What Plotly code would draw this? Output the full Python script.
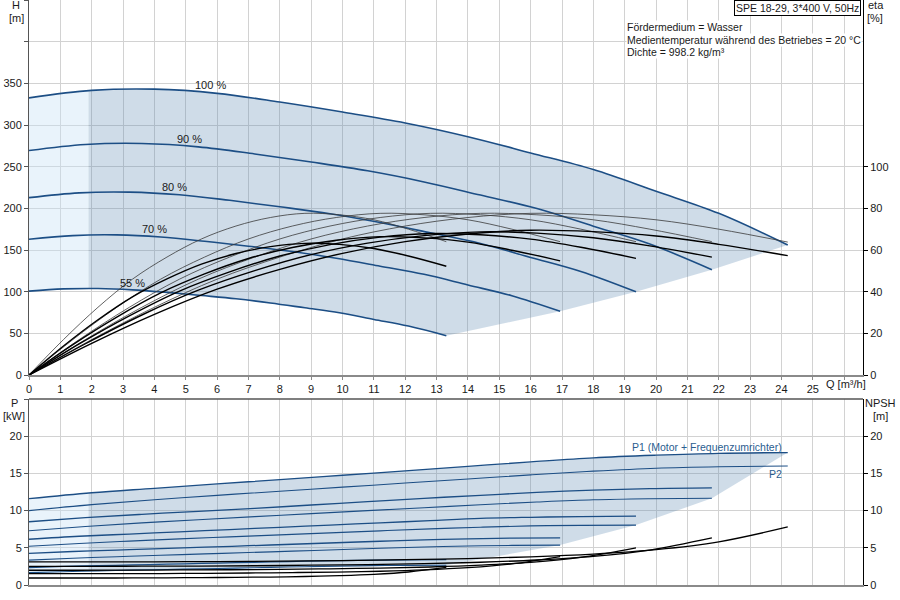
import numpy as np
import plotly.graph_objects as go

# ---------------- data ----------------
speed_labels = ["100 %", "90 %", "80 %", "70 %", "55 %"]

# flow points per speed curve [m3/h]
q_100 = [0, 2, 4, 6, 8, 10, 12, 14, 16, 18, 20, 22, 24.2]
q_90 = [0, 1.8, 3.6, 5.4, 7.2, 9, 10.8, 12.6, 14.4, 16.2, 18, 19.8, 21.78]
q_80 = [0, 1.6, 3.2, 4.8, 6.4, 8, 9.6, 11.2, 12.8, 14.4, 16, 17.6, 19.36]
q_70 = [0, 1.4, 2.8, 4.2, 5.6, 7, 8.4, 9.8, 11.2, 12.6, 14, 15.4, 16.94]
q_55 = [0, 1.1, 2.2, 3.3, 4.4, 5.5, 6.6, 7.7, 8.8, 9.9, 11, 12.1, 13.31]

# head H [m]
h_100 = [332.5, 341.5, 343, 338, 327.5, 315.5, 302.5, 286, 266.5, 246.5, 220.5, 194, 156]
h_90 = [269.3, 276.6, 277.8, 273.8, 265.3, 255.6, 245.0, 231.7, 215.9, 199.7, 178.6, 157.1, 126.4]
h_80 = [212.8, 218.6, 219.5, 216.3, 209.6, 201.9, 193.6, 183.0, 170.6, 157.8, 141.1, 124.2, 99.8]
h_70 = [162.9, 167.3, 168.1, 165.6, 160.5, 154.6, 148.2, 140.1, 130.6, 120.8, 108.0, 95.1, 76.4]
h_55 = [100.6, 103.3, 103.8, 102.2, 99.1, 95.4, 91.5, 86.5, 80.6, 74.6, 66.7, 58.7, 47.2]

# pump efficiency (thin curves) [%]
etap_100 = [0, 17, 32.5, 46, 56.6, 65.3, 71.5, 75.6, 77.6, 76.9, 74.5, 70, 63.8]
etap_90 = [0, 17, 32.5, 46, 56.6, 65.3, 71.5, 75.6, 77.6, 76.9, 74.5, 70, 64]
etap_80 = [0, 17, 32.5, 46, 56.6, 65.3, 71.5, 75.6, 77.6, 76.9, 74.5, 70, 64]
etap_70 = [0, 17, 32.5, 46, 56.6, 65.3, 71.5, 75.6, 77.6, 76.9, 74.5, 70, 64]
etap_55 = [0, 17, 32.5, 46, 56.6, 65.3, 71.5, 75.6, 77.6, 76.9, 74.5, 70, 64]

# total efficiency (thick curves) [%]
etat_100 = [0, 15.2, 29.1, 41.2, 50.7, 58.4, 64.0, 67.7, 69.5, 68.8, 66.7, 62.7, 57.3]
etat_90 = [0, 15.0, 28.8, 40.7, 50.1, 57.8, 63.3, 66.9, 68.7, 68.1, 65.9, 62.0, 56.6]
etat_80 = [0, 14.9, 28.4, 40.3, 49.5, 57.1, 62.6, 66.2, 67.9, 67.3, 65.2, 61.3, 56.0]
etat_70 = [0, 14.6, 27.8, 39.4, 48.5, 55.9, 61.2, 64.7, 66.4, 65.8, 63.8, 59.9, 54.8]
etat_55 = [0, 13.9, 26.5, 37.5, 46.1, 53.2, 58.3, 61.6, 63.2, 62.7, 60.7, 57.1, 52.2]

# P1 (motor + frequency converter) [kW]
p1_100 = [11.6, 12.4, 13.0, 13.6, 14.15, 14.75, 15.35, 15.95, 16.55, 17.1, 17.45, 17.7, 17.8]
p1_90 = [8.5, 9.05, 9.5, 9.9, 10.3, 10.75, 11.2, 11.65, 12.05, 12.45, 12.75, 12.95, 13.05]
p1_80 = [6.15, 6.55, 6.85, 7.15, 7.45, 7.75, 8.05, 8.35, 8.65, 8.95, 9.1, 9.2, 9.25]
p1_70 = [4.24, 4.5, 4.7, 4.9, 5.08, 5.28, 5.48, 5.68, 5.88, 6.07, 6.2, 6.3, 6.34]
p1_55 = [2.35, 2.5, 2.6, 2.7, 2.8, 2.9, 3.0, 3.1, 3.2, 3.28, 3.34, 3.38, 3.4]

# P2 [kW]
p2_100 = [10.0, 10.8, 11.45, 12.05, 12.6, 13.15, 13.7, 14.25, 14.8, 15.3, 15.7, 15.9, 16.0]
p2_90 = [7.3, 7.87, 8.35, 8.78, 9.19, 9.59, 9.99, 10.39, 10.79, 11.15, 11.45, 11.59, 11.66]
p2_80 = [5.2, 5.58, 5.9, 6.2, 6.47, 6.74, 7.01, 7.28, 7.54, 7.77, 7.95, 8.02, 8.05]
p2_70 = [3.35, 3.6, 3.8, 4.0, 4.18, 4.36, 4.55, 4.74, 4.93, 5.1, 5.24, 5.32, 5.36]
p2_55 = [1.66, 1.79, 1.9, 2.0, 2.09, 2.18, 2.27, 2.37, 2.46, 2.54, 2.6, 2.64, 2.66]

# NPSH [m]
npsh_100 = [3.1, 3.1, 3.12, 3.15, 3.2, 3.28, 3.4, 3.55, 3.78, 4.15, 4.75, 5.8, 7.8]
npsh_90 = [2.51, 2.51, 2.53, 2.55, 2.59, 2.66, 2.75, 2.88, 3.06, 3.36, 3.85, 4.7, 6.32]
npsh_80 = [1.98, 1.98, 2.0, 2.02, 2.05, 2.1, 2.18, 2.27, 2.42, 2.66, 3.04, 3.71, 4.99]
npsh_70 = [1.52, 1.52, 1.53, 1.54, 1.57, 1.61, 1.67, 1.74, 1.85, 2.03, 2.33, 2.84, 3.82]
npsh_55 = [0.94, 0.94, 0.94, 0.95, 0.97, 0.99, 1.03, 1.07, 1.14, 1.26, 1.44, 1.75, 2.36]

q_sets = [q_100, q_90, q_80, q_70, q_55]
h_sets = [h_100, h_90, h_80, h_70, h_55]
etap_sets = [etap_100, etap_90, etap_80, etap_70, etap_55]
etat_sets = [etat_100, etat_90, etat_80, etat_70, etat_55]
p1_sets = [p1_100, p1_90, p1_80, p1_70, p1_55]
p2_sets = [p2_100, p2_90, p2_80, p2_70, p2_55]
npsh_sets = [npsh_100, npsh_90, npsh_80, npsh_70, npsh_55]

# label positions (Q, H) for speed labels
label_q = [5.8, 5.13, 4.65, 4.0, 3.3]
label_h = [348, 283, 225.6, 174.8, 110.8]

info_lines = ["Fördermedium = Wasser",
              "Medientemperatur während des Betriebes = 20 °C",
              "Dichte = 998.2 kg/m³"]

Q_SPLIT = 1.9  # boundary of light zone

# ---------------- helpers ----------------
def clip(q, y, a, b):
    q = np.asarray(q, float)
    y = np.asarray(y, float)
    lo, hi = max(a, q[0]), min(b, q[-1])
    inner = (q > lo) & (q < hi)
    qs = np.concatenate([[lo], q[inner], [hi]])
    return qs, np.interp(qs, q, y)


def polygons(top_q, top_y, right_pts, bot_q, bot_y):
    tq, ty = clip(top_q, top_y, 0, Q_SPLIT)
    bq, by = clip(bot_q, bot_y, 0, Q_SPLIT)
    light = (np.concatenate([tq, bq[::-1]]), np.concatenate([ty, by[::-1]]))
    tq, ty = clip(top_q, top_y, Q_SPLIT, 1e9)
    bq, by = clip(bot_q, bot_y, Q_SPLIT, 1e9)
    rq = [p[0] for p in right_pts]
    ry = [p[1] for p in right_pts]
    dark = (np.concatenate([tq, rq, bq[::-1]]), np.concatenate([ty, ry, by[::-1]]))
    return light, dark


BLUE = "#1c4e85"
DARK_FILL = "rgba(95,138,178,0.30)"
LIGHT_FILL = "rgba(200,225,245,0.40)"
FONT = "Liberation Sans, Arial, sans-serif"
GRID = "#d2d2d2"

fig = go.Figure()

# ---------------- upper chart: shaded zone ----------------
right_top = [(q[-1], h[-1]) for q, h in zip(q_sets, h_sets)]
light, dark = polygons(q_100, h_100, right_top[1:], q_55, h_55)
for (px, py), col in [(light, LIGHT_FILL), (dark, DARK_FILL)]:
    fig.add_trace(go.Scatter(x=px, y=py, xaxis="x", yaxis="y", mode="lines",
                             line=dict(width=0), fill="toself", fillcolor=col,
                             hoverinfo="skip", showlegend=False))

# head curves
for q, h in zip(q_sets, h_sets):
    fig.add_trace(go.Scatter(x=q, y=h, xaxis="x", yaxis="y", mode="lines",
                             line=dict(color=BLUE, width=1.6, shape="spline"),
                             showlegend=False))

# efficiency curves
for q, e in zip(q_sets, etap_sets):
    fig.add_trace(go.Scatter(x=q, y=e, xaxis="x", yaxis="y3", mode="lines",
                             line=dict(color="#3a3a3a", width=0.8, shape="spline"),
                             showlegend=False))
for q, e in zip(q_sets, etat_sets):
    fig.add_trace(go.Scatter(x=q, y=e, xaxis="x", yaxis="y3", mode="lines",
                             line=dict(color="#000000", width=1.4, shape="spline"),
                             showlegend=False))

# ---------------- lower chart ----------------
right_bot = [(q_100[-1], p1_100[-1])] + [(q[-1], p[-1]) for q, p in zip(q_sets[1:], p2_sets[1:])]
light, dark = polygons(q_100, p1_100, right_bot[1:], q_55, p2_55)
for (px, py), col in [(light, LIGHT_FILL), (dark, DARK_FILL)]:
    fig.add_trace(go.Scatter(x=px, y=py, xaxis="x2", yaxis="y2", mode="lines",
                             line=dict(width=0), fill="toself", fillcolor=col,
                             hoverinfo="skip", showlegend=False))

for q, p in zip(q_sets, p1_sets):
    fig.add_trace(go.Scatter(x=q, y=p, xaxis="x2", yaxis="y2", mode="lines",
                             line=dict(color=BLUE, width=1.3, shape="spline"),
                             showlegend=False))
for q, p in zip(q_sets, p2_sets):
    fig.add_trace(go.Scatter(x=q, y=p, xaxis="x2", yaxis="y2", mode="lines",
                             line=dict(color=BLUE, width=1.1, shape="spline"),
                             showlegend=False))
for q, n in zip(q_sets, npsh_sets):
    fig.add_trace(go.Scatter(x=q, y=n, xaxis="x2", yaxis="y4", mode="lines",
                             line=dict(color="#000000", width=1.3, shape="spline"),
                             showlegend=False))

# ---------------- layout ----------------
TOP_DOM = [210 / 585, 1.0]
BOT_DOM = [0.0, 186 / 585]
XR = [0, 26.6]

xticks = list(range(0, 27))
xtext = [str(v) if v <= 25 else "" for v in xticks]

h_ticks = list(range(0, 451, 50))
h_text = [str(v) if v <= 350 else "" for v in h_ticks]

fig.update_layout(
    width=900, height=600,
    margin=dict(l=29, r=37, t=0, b=15, autoexpand=False),
    paper_bgcolor="white", plot_bgcolor="white",
    font=dict(family=FONT, size=11, color="#1a1a1a"),
    showlegend=False,
    xaxis=dict(domain=[0, 1], range=XR, anchor="y", tickvals=xticks, ticktext=xtext,
               showgrid=True, gridcolor=GRID, gridwidth=1, zeroline=False,
               showline=True, linecolor="#8a8a8a", linewidth=2,
               ticks="outside", ticklen=3, tickcolor="#8a8a8a", tickfont=dict(size=11)),
    yaxis=dict(domain=TOP_DOM, range=[0, 450], anchor="x", tickvals=h_ticks, ticktext=h_text,
               showgrid=True, gridcolor=GRID, zeroline=False,
               showline=True, linecolor="#555555", linewidth=1,
               ticks="outside", ticklen=4, tickcolor="#555555"),
    yaxis3=dict(range=[0, 180], overlaying="y", side="right", anchor="x",
                tickvals=[0, 20, 40, 60, 80, 100], showgrid=False, zeroline=False,
                showline=True, linecolor="#000000", linewidth=1,
                ticks="outside", ticklen=4, tickcolor="#000000"),
    xaxis2=dict(domain=[0, 1], range=XR, anchor="y2", tickvals=xticks,
                showticklabels=False, showgrid=True, gridcolor=GRID, zeroline=False,
                showline=True, linecolor="#8a8a8a", linewidth=2, ticks=""),
    yaxis2=dict(domain=BOT_DOM, range=[0, 25], anchor="x2",
                tickvals=[0, 5, 10, 15, 20, 25], ticktext=["0", "5", "10", "15", "20", ""],
                showgrid=True, gridcolor=GRID, zeroline=False,
                showline=True, linecolor="#555555", linewidth=1,
                ticks="outside", ticklen=4, tickcolor="#555555"),
    yaxis4=dict(range=[0, 25], overlaying="y2", side="right", anchor="x2",
                tickvals=[0, 5, 10, 15, 20], showgrid=False, zeroline=False,
                showline=True, linecolor="#000000", linewidth=1,
                ticks="outside", ticklen=4, tickcolor="#000000"),
)

# frame line on top of lower chart
fig.add_shape(type="line", xref="x2 domain", yref="y2 domain", x0=0, x1=1, y0=1, y1=1,
              line=dict(color="#555555", width=1.5))

ann = []
for lab, lq, lh in zip(speed_labels, label_q, label_h):
    ann.append(dict(x=lq, y=lh, xref="x", yref="y", text=lab, showarrow=False,
                    font=dict(size=11, color="#1a1a1a")))


def px_x(px):
    return (px - 29) / 834.0


def px_y(py):
    return (585 - py) / 585.0


def txt(x, y, text, xanchor="center", size=11, **kw):
    return dict(x=px_x(x), y=px_y(y), xref="paper", yref="paper", text=text,
                showarrow=False, xanchor=xanchor, yanchor="middle",
                font=dict(size=size, color=kw.pop("color", "#1a1a1a")), **kw)


ann += [
    txt(16, 5, "H"), txt(16, 18, "[m]"),
    txt(876, 5, "eta"), txt(875, 18, "[%]"),
    txt(14, 403, "P"), txt(14, 416, "[kW]"),
    txt(880, 403, "NPSH"), txt(880, 416, "[m]"),
    dict(x=25.35, y=px_y(384), xref="x", yref="paper", text="Q [m³/h]",
         showarrow=False, xanchor="left", yanchor="middle", font=dict(size=11)),
    dict(x=px_x(861), y=1.0, xref="paper", yref="paper", text="SPE 18-29, 3*400 V, 50Hz",
         showarrow=False, xanchor="right", yanchor="top", bgcolor="white",
         bordercolor="#000000", borderwidth=1, borderpad=1, font=dict(size=10.5)),
]
for i, line in enumerate(info_lines):
    ann.append(txt(626, 27 + 12.6 * i, line, xanchor="left", size=10.5,
                   bgcolor="white", borderpad=0))

ann += [
    dict(x=px_x(784), y=18.55, xref="paper", yref="y2",
         text="P1 (Motor + Frequenzumrichter)", showarrow=False, xanchor="right",
         yanchor="middle", font=dict(size=10.5, color="#2a5d8f")),
    dict(x=px_x(784), y=14.97, xref="paper", yref="y2",
         text="P2", showarrow=False, xanchor="right",
         yanchor="middle", font=dict(size=10.5, color="#2a5d8f")),
]
fig.update_layout(annotations=ann)

fig.write_html("out.html",
               config={"displayModeBar": False},
               post_script="document.body.style.margin='0';document.body.style.overflow='hidden';")
